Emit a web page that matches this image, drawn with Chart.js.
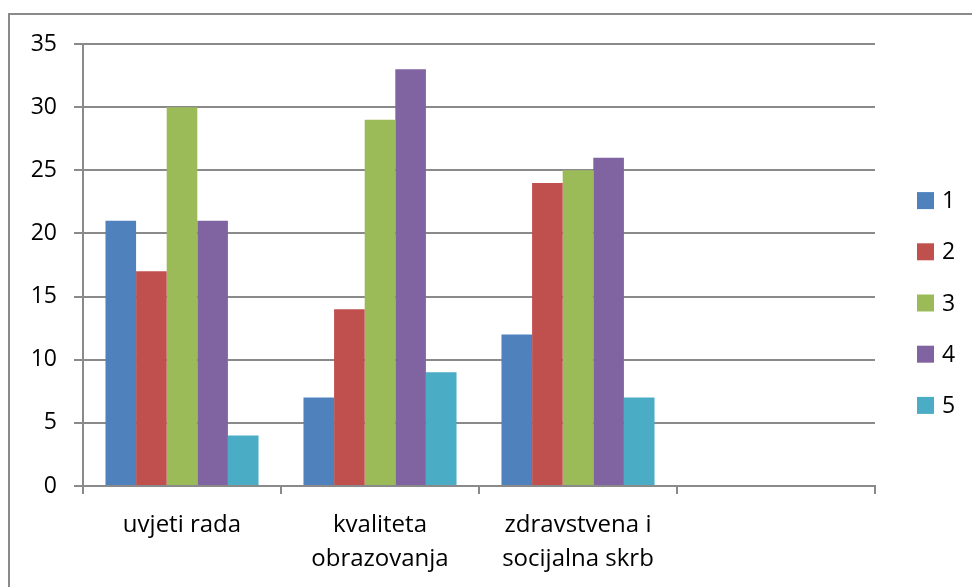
<!DOCTYPE html>
<html>
<head>
<meta charset="utf-8">
<script src="https://cdn.jsdelivr.net/npm/chart.js@4.4.0/dist/chart.umd.min.js"></script>
<style>
  html, body { margin: 0; padding: 0; background: #fff; overflow: hidden; }
  #wrap { position: relative; width: 972px; height: 587px; }
  #frame { position: absolute; left: 8px; top: 13px; width: 990px; height: 600px; border: 2px solid #8a8a8a; box-sizing: border-box; }
  canvas { position: absolute; left: 0; top: 0; }
</style>
</head>
<body>
<div id="wrap">
  <div id="frame"></div>
  <canvas id="chart" width="972" height="587"></canvas>
</div>
<script>
// categories (last one is empty in the original)
const categories = [['uvjeti rada'], ['kvaliteta', 'obrazovanja'], ['zdravstvena i', 'socijalna skrb'], ''];
const seriesNames = ['1', '2', '3', '4', '5'];
const s1 = [21, 7, 12, null];
const s2 = [17, 14, 24, null];
const s3 = [30, 29, 25, null];
const s4 = [21, 33, 26, null];
const s5 = [4, 9, 7, null];
const colors = ['#4F81BD', '#C0504D', '#9BBB59', '#8064A2', '#4BACC6'];

const allSeries = [s1, s2, s3, s4, s5];
const datasets = allSeries.map((vals, i) => ({
  label: seriesNames[i],
  data: vals,
  backgroundColor: colors[i],
  borderWidth: 0,
  categoryPercentage: 0.773,
  barPercentage: 1.0
}));

const gridColor = '#8a8a8a';
const font = { family: 'Open Sans', size: 23 };

// legend drawn by hand, Excel style: boxes to the right of the plot
const sideLegend = {
  id: 'sideLegend',
  afterDraw(chart) {
    const ctx = chart.ctx;
    const area = chart.chartArea;
    const n = chart.data.datasets.length;
    const step = 51.2;
    const midY = (area.top + area.bottom) / 2 + 38;
    const x0 = area.right + 42;
    ctx.save();
    ctx.font = '23px "Open Sans"';
    ctx.textBaseline = 'middle';
    chart.data.datasets.forEach((ds, i) => {
      const y = midY + (i - (n - 1) / 2) * step;
      ctx.fillStyle = ds.backgroundColor;
      ctx.fillRect(x0, y - 8.5, 17, 17);
      ctx.fillStyle = '#000';
      ctx.fillText(ds.label, x0 + 25, y + 1);
    });
    ctx.restore();
  }
};

new Chart(document.getElementById('chart'), {
  type: 'bar',
  data: { labels: categories, datasets: datasets },
  plugins: [sideLegend],
  options: {
    responsive: false,
    animation: false,
    layout: { padding: { left: 0, top: 44, right: 97, bottom: 0 } },
    plugins: {
      legend: { display: false },
      tooltip: { enabled: false }
    },
    scales: {
      x: {
        grid: { display: true, drawOnChartArea: false, color: gridColor, lineWidth: 2, tickLength: 8, offset: true },
        border: { color: gridColor, width: 2 },
        ticks: { color: '#000', font: { family: 'Open Sans', size: 24, lineHeight: 1.42 }, padding: 14, maxRotation: 0, autoSkip: false },
        afterFit: (scale) => { scale.height = 101; }
      },
      y: {
        min: 0,
        max: 35,
        ticks: { stepSize: 5, color: '#000', font: font, padding: 17 },
        grid: { color: gridColor, lineWidth: 2, tickLength: 9 },
        border: { color: gridColor, width: 2 },
        afterFit: (scale) => { scale.width = 83; }
      }
    }
  }
});
</script>
</body>
</html>
